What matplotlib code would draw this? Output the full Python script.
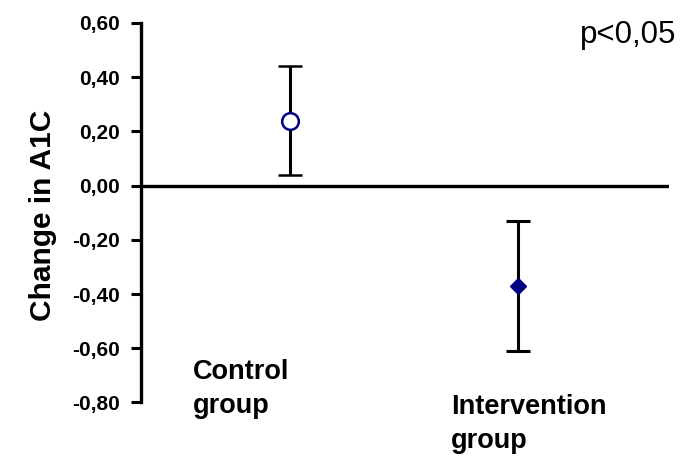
import matplotlib
matplotlib.use('Agg')
import matplotlib.pyplot as plt

# values
groups = ['Control\ngroup', 'Intervention\ngroup']
group_pos = [1, 2]
mean_change = [0.24, -0.37]
err = [0.20, 0.24]
yticks = [0.60, 0.40, 0.20, 0.00, -0.20, -0.40, -0.60, -0.80]

plt.rcParams['font.family'] = ['Liberation Sans', 'DejaVu Sans']

fig = plt.figure(figsize=(6.98, 4.57), dpi=100)
ax = fig.add_axes([0.202, 0.1193, 0.7565, 0.8304])

navy = '#000080'
# control: open circle
ax.errorbar(group_pos[0], mean_change[0], yerr=err[0], fmt='o', color='black',
            ecolor='black', elinewidth=2.2, capsize=8.5, capthick=2.2,
            mfc='white', mec=navy, mew=1.8, ms=12, zorder=3)
# intervention: filled diamond
ax.errorbar(group_pos[1], mean_change[1], yerr=err[1], fmt='D', color=navy,
            ecolor='black', elinewidth=2.2, capsize=8.5, capthick=2.2,
            mfc=navy, mec=navy, ms=8, zorder=3)

ax.axhline(0, color='black', lw=2.4, zorder=2)

ax.set_xlim(0.3465, 2.662)
ax.set_ylim(-0.80, 0.60)
ax.set_yticks(yticks)
ax.set_yticklabels([f'{v:.2f}'.replace('.', ',') for v in yticks],
                   fontsize=15, fontweight='bold')
ax.tick_params(axis='y', direction='out', length=7, width=2.2, pad=8)
ax.set_xticks([])

for s in ['top', 'right', 'bottom']:
    ax.spines[s].set_visible(False)
ax.spines['left'].set_linewidth(2.4)

# group labels sit inside the plot area, staggered
ax.text(0.575, -0.638, groups[0], fontsize=19.5, fontweight='bold',
        ha='left', va='top', linespacing=1.4)
ax.text(1.706, -0.767, groups[1], fontsize=19.5, fontweight='bold',
        ha='left', va='top', linespacing=1.4, clip_on=False)

fig.text(0.062, 0.528, 'Change in A1C', rotation=90, fontsize=21.5,
         fontweight='bold', ha='center', va='center')
fig.text(0.831, 0.9066, 'p<0,05', fontsize=22.5, ha='left', va='baseline')

fig.savefig('out.png', dpi=100)
